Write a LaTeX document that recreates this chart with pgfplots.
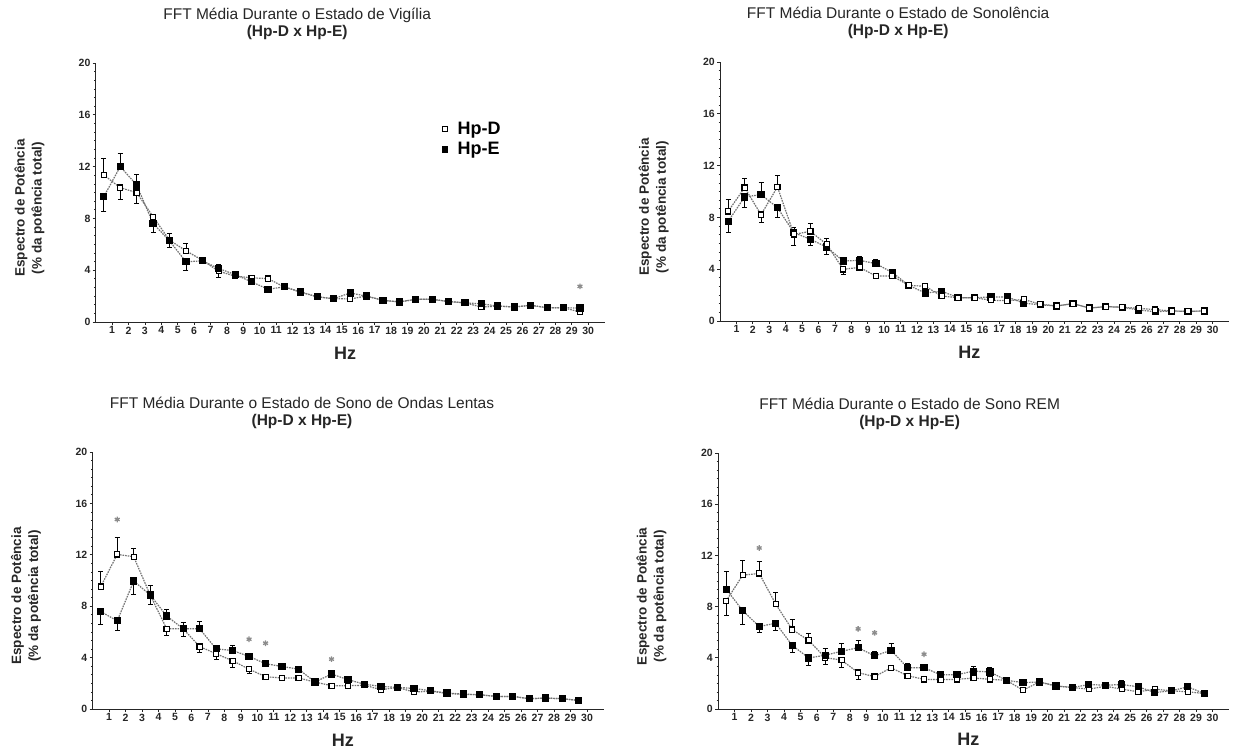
\documentclass[border=0pt]{standalone}
\usepackage{fontspec}
\setmainfont{Liberation Sans}
\usepackage{pgfplots}
\usepackage{pgfplotstable}
\pgfplotsset{compat=1.18}

% Panel 1: Vigilia
\pgfplotstableread{
x y ep em
0.5 11.35 1.30 0
1.5 10.37 0 0.90
2.5 9.99 0 0.80
3.5 8.13 0.20 0
4.5 6.32 0 0
5.5 5.50 0.60 0
6.5 4.77 0 0
7.5 3.92 0 0.44
8.5 3.54 0 0
9.5 3.41 0 0
10.5 3.35 0 0
11.5 2.70 0 0
12.5 2.30 0 0
13.5 1.94 0 0
14.5 1.80 0 0
15.5 1.78 0 0
16.5 2.00 0 0
17.5 1.67 0 0
18.5 1.55 0 0
19.5 1.75 0 0
20.5 1.75 0 0
21.5 1.58 0 0
22.5 1.48 0 0
23.5 1.15 0 0
24.5 1.23 0 0
25.5 1.16 0 0
26.5 1.29 0 0
27.5 1.10 0 0
28.5 1.10 0 0
29.5 0.77 0 0
}\VigD
\pgfplotstableread{
x y ep em
0.5 9.68 0 1.10
1.5 12.00 1.00 0
2.5 10.58 0.80 0
3.5 7.61 0 0.70
4.5 6.27 0.60 0.50
5.5 4.65 0 0.65
6.5 4.72 0 0
7.5 4.13 0.35 0
8.5 3.66 0 0
9.5 3.10 0 0
10.5 2.53 0 0
11.5 2.71 0 0
12.5 2.32 0 0
13.5 1.94 0 0
14.5 1.80 0 0
15.5 2.24 0 0
16.5 2.00 0 0
17.5 1.67 0 0
18.5 1.55 0 0
19.5 1.75 0 0
20.5 1.75 0 0
21.5 1.58 0 0
22.5 1.48 0 0
23.5 1.40 0 0
24.5 1.23 0 0
25.5 1.16 0 0
26.5 1.29 0 0
27.5 1.10 0 0
28.5 1.10 0 0
29.5 1.08 0 0
}\VigE
% Panel 2: Sonolencia
\pgfplotstableread{
x y ep em
0.5 8.47 0.90 0
1.5 10.30 0.74 0
2.5 8.21 0 0.57
3.5 10.35 0.90 0
4.5 6.69 0 0.85
5.5 6.92 0.60 0
6.5 5.92 0.44 0
7.5 3.99 0 0.39
8.5 4.14 0 0
9.5 3.47 0 0
10.5 3.47 0 0
11.5 2.75 0 0
12.5 2.68 0 0
13.5 1.93 0 0
14.5 1.80 0 0
15.5 1.80 0 0
16.5 1.60 0 0
17.5 1.57 0 0
18.5 1.66 0 0
19.5 1.30 0 0
20.5 1.16 0 0
21.5 1.34 0 0
22.5 1.00 0 0
23.5 1.11 0 0
24.5 1.06 0 0
25.5 0.98 0 0
26.5 0.88 0 0
27.5 0.77 0 0
28.5 0.75 0 0
29.5 0.77 0 0
}\SonD
\pgfplotstableread{
x y ep em
0.5 7.70 0 0.83
1.5 9.58 0 0.78
2.5 9.76 0.92 0
3.5 8.75 0 0.72
4.5 6.82 0.44 0
5.5 6.31 0 0.47
6.5 5.71 0 0.56
7.5 4.63 0.31 0
8.5 4.68 0.34 0
9.5 4.43 0.33 0
10.5 3.73 0 0
11.5 2.75 0 0
12.5 2.16 0 0
13.5 2.30 0 0
14.5 1.80 0 0
15.5 1.80 0 0
16.5 1.85 0 0
17.5 1.85 0 0
18.5 1.38 0 0
19.5 1.25 0 0
20.5 1.16 0 0
21.5 1.34 0 0
22.5 1.00 0 0
23.5 1.11 0 0
24.5 1.06 0 0
25.5 0.85 0 0
26.5 0.72 0 0
27.5 0.77 0 0
28.5 0.75 0 0
29.5 0.77 0 0
}\SonE
% Panel 3: Sono de Ondas Lentas
\pgfplotstableread{
x y ep em
0.5 9.52 1.17 0
1.5 12.03 1.32 0
2.5 11.85 0.65 0
3.5 8.87 0 0.69
4.5 6.24 0 0.52
5.5 6.24 0 0.60
6.5 4.86 0 0.46
7.5 4.30 0 0.42
8.5 3.75 0 0.52
9.5 3.10 0 0.36
10.5 2.51 0 0
11.5 2.41 0 0
12.5 2.41 0 0
13.5 2.10 0 0
14.5 1.81 0 0
15.5 1.81 0 0
16.5 1.85 0 0
17.5 1.50 0 0
18.5 1.68 0 0
19.5 1.32 0 0
20.5 1.38 0 0
21.5 1.22 0 0
22.5 1.13 0 0
23.5 1.11 0 0
24.5 0.98 0 0
25.5 0.98 0 0
26.5 0.80 0 0
27.5 0.85 0 0
28.5 0.80 0 0
29.5 0.67 0 0
}\SolD
\pgfplotstableread{
x y ep em
0.5 7.58 0 0.96
1.5 6.86 0 0.75
2.5 9.96 0 1.01
3.5 8.87 0.78 0
4.5 7.24 0.55 0
5.5 6.24 0.51 0
6.5 6.24 0.56 0
7.5 4.68 0 0
8.5 4.55 0.39 0
9.5 4.09 0 0
10.5 3.52 0 0
11.5 3.31 0 0
12.5 3.10 0 0
13.5 2.10 0 0
14.5 2.72 0 0
15.5 2.28 0 0
16.5 1.93 0 0
17.5 1.76 0 0
18.5 1.68 0 0
19.5 1.60 0 0
20.5 1.42 0 0
21.5 1.24 0 0
22.5 1.16 0 0
23.5 1.11 0 0
24.5 0.98 0 0
25.5 0.98 0 0
26.5 0.80 0 0
27.5 0.85 0 0
28.5 0.80 0 0
29.5 0.67 0 0
}\SolE
% Panel 4: Sono REM
\pgfplotstableread{
x y ep em
0.5 8.45 0 1.10
1.5 10.46 1.14 0
2.5 10.59 0.96 0
3.5 8.20 0.90 0
4.5 6.21 0.83 0
5.5 5.36 0.52 0
6.5 4.02 0 0.54
7.5 3.81 0 0.56
8.5 2.84 0 0.49
9.5 2.53 0 0
10.5 3.22 0 0
11.5 2.60 0 0
12.5 2.32 0 0
13.5 2.29 0 0
14.5 2.32 0 0
15.5 2.42 0 0
16.5 2.32 0 0
17.5 2.24 0 0
18.5 1.47 0 0
19.5 2.11 0 0
20.5 1.80 0 0
21.5 1.68 0 0
22.5 1.55 0 0
23.5 1.78 0 0
24.5 1.55 0 0
25.5 1.34 0 0
26.5 1.55 0 0
27.5 1.42 0 0
28.5 1.34 0 0
29.5 1.21 0 0
}\RemD
\pgfplotstableread{
x y ep em
0.5 9.36 1.41 0
1.5 7.68 0 1.03
2.5 6.44 0 0.44
3.5 6.70 0 0.57
4.5 4.97 0 0.51
5.5 3.99 0 0.56
6.5 4.20 0.52 0
7.5 4.51 0.59 0
8.5 4.79 0.57 0
9.5 4.15 0.39 0
10.5 4.59 0.51 0
11.5 3.22 0.34 0
12.5 3.22 0 0
13.5 2.68 0 0
14.5 2.68 0 0
15.5 2.96 0.40 0
16.5 2.89 0.35 0
17.5 2.24 0 0
18.5 2.06 0 0
19.5 2.11 0 0
20.5 1.80 0 0
21.5 1.68 0 0
22.5 1.91 0 0
23.5 1.86 0 0
24.5 1.91 0.30 0
25.5 1.73 0 0
26.5 1.29 0 0
27.5 1.42 0 0
28.5 1.73 0 0
29.5 1.21 0 0
}\RemE

\pgfplotsset{
  panel/.style={
    scale only axis,
    xmin=0, xmax=31, ymin=0, ymax=20,
    axis lines=left,
    axis line style={-, line width=0.9pt, black!85},
    xtick={1,...,30}, ytick={0,4,...,20},
    minor y tick num=5,
    tick align=outside,
    major tick length=3pt, minor tick length=1.5pt,
    tick style={black!85, line width=0.7pt},
    /pgf/number format/assume math mode=true,
    ticklabel style={font=\bfseries\fontsize{10.5}{12}\selectfont, text=black!85},
    xticklabel style={inner sep=1.5pt},
    yticklabel style={inner sep=2pt},
    xlabel={Hz},
    xlabel style={at={(axis description cs:0.49,-0.12)}, anchor=center,
      font=\bfseries\fontsize{18}{20}\selectfont, text=black!85},
    ylabel={Espectro de Potência\\(\% da potência total)},
    ylabel style={at={(axis description cs:-0.13,0.44)}, anchor=center, align=center,
      font=\bfseries\fontsize{13.5}{17}\selectfont, text=black!85},
    title style={anchor=south, align=center, inner sep=0pt, yshift=17pt,
      font=\fontsize{15.5}{17}\selectfont, text=black!85},
    legend style={draw=none, fill=none, font=\bfseries\fontsize{18}{22}\selectfont,
      legend cell align=left, row sep=2pt, inner sep=0pt},
    clip=false,
  },
  errs/.style={
    error bars/y dir=both, error bars/y explicit,
    error bars/error bar style={solid, black, line width=0.7pt},
    error bars/error mark options={rotate=90, mark size=2.5pt, black, line width=0.7pt}},
  dser/.style={black!55, dash pattern=on 1.6pt off 1pt, line width=1.2pt,
    mark=square*, mark size=2.6pt,
    mark options={solid, fill=white, draw=black, line width=1.2pt}, errs},
  eser/.style={black!55, dash pattern=on 1.6pt off 1pt, line width=1.2pt,
    mark=square*, mark size=3pt,
    mark options={solid, fill=black, draw=black}, errs},
  star/.style={only marks, mark=asterisk, mark size=2.8pt, black!45,
    mark options={line width=1.3pt}},
}

\begin{document}
\begin{tikzpicture}
\useasboundingbox (0,0) rectangle (1234pt,749pt);

% Panel 1
\begin{axis}[panel, at={(95.6pt,427pt)}, anchor=south west, width=509pt, height=259pt,
  title={FFT Média Durante o Estado de Vigília\\\textbf{(Hp-D x Hp-E)}},
  title style={at={(axis description cs:0.396,1)}},
  legend style={at={(axis description cs:0.68,0.78)}, anchor=north west}]
\addplot[dser, forget plot] table[x=x, y=y, y error plus=ep, y error minus=em] {\VigD};
\addplot[eser, forget plot] table[x=x, y=y, y error plus=ep, y error minus=em] {\VigE};
\addplot[star, forget plot] coordinates {(29.5,2.75)};
\addlegendimage{only marks, mark=square*, mark size=2.4pt, mark options={fill=white, draw=black, line width=1.1pt}}
\addlegendentry{\hspace{8pt}Hp-D}
\addlegendimage{only marks, mark=square*, mark size=2.8pt, mark options={fill=black, draw=black}}
\addlegendentry{\hspace{8pt}Hp-E}
\end{axis}

% Panel 2
\begin{axis}[panel, at={(720pt,428pt)}, anchor=south west, width=509pt, height=259pt,
  title={FFT Média Durante o Estado de Sonolência\\\textbf{(Hp-D x Hp-E)}},
  title style={at={(axis description cs:0.35,1)}}]
\addplot[eser] table[x=x, y=y, y error plus=ep, y error minus=em] {\SonE};
\addplot[dser] table[x=x, y=y, y error plus=ep, y error minus=em] {\SonD};
\end{axis}

% Panel 3
\begin{axis}[panel, at={(92.5pt,40pt)}, anchor=south west, width=511pt, height=257pt,
  title={FFT Média Durante o Estado de Sono de Ondas Lentas\\\textbf{(Hp-D x Hp-E)}},
  title style={at={(axis description cs:0.41,1)}}]
\addplot[dser] table[x=x, y=y, y error plus=ep, y error minus=em] {\SolD};
\addplot[eser] table[x=x, y=y, y error plus=ep, y error minus=em] {\SolE};
\addplot[star] coordinates {(1.5,14.75) (9.5,5.43) (10.5,5.12) (14.5,3.88)};
\end{axis}

% Panel 4
\begin{axis}[panel, at={(718pt,40pt)}, anchor=south west, width=511pt, height=256pt,
  title={FFT Média Durante o Estado de Sono REM\\\textbf{(Hp-D x Hp-E)}},
  title style={at={(axis description cs:0.375,1)}}]
\addplot[dser] table[x=x, y=y, y error plus=ep, y error minus=em] {\RemD};
\addplot[eser] table[x=x, y=y, y error plus=ep, y error minus=em] {\RemE};
\addplot[star] coordinates {(2.5,12.58) (8.5,6.26) (9.5,5.95) (12.5,4.28)};
\end{axis}
\end{tikzpicture}
\end{document}
